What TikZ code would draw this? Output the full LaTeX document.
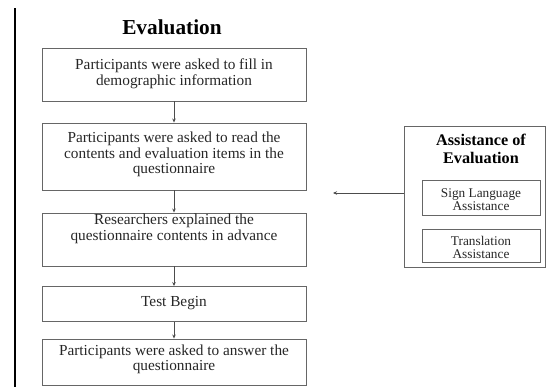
\documentclass[tikz,border=0pt]{standalone}
\usepackage{fontspec}
\setmainfont{Liberation Serif}
\usetikzlibrary{arrows.meta}
\tikzset{
  flowbox/.style={draw=black!60, line width=0.9pt, minimum width=264pt, inner sep=0pt},
  txt/.style={align=center, font=\fontsize{15.3}{15.6}\selectfont, inner sep=0pt, text=black!85},
  smalltxt/.style={align=center, font=\fontsize{13.3}{13.2}\selectfont, inner sep=0pt, text=black!85},
  subbox/.style={draw=black!60, line width=0.9pt, minimum width=118pt, inner sep=0pt},
  flow/.style={draw=black!70, line width=0.7pt, -{Stealth[length=4pt,width=3.5pt]}},
}
\begin{document}
\begin{tikzpicture}[x=1pt,y=-1pt]
\useasboundingbox (0,0) rectangle (547,391);
% left rule
\draw[line width=2pt] (15,8) coordinate (rt) -- (15,387) coordinate (rb);
% title
\node[font=\fontsize{21.3}{23}\selectfont\bfseries, inner sep=0pt] (title) at (172,27) {Evaluation};
% flow boxes
\node[flowbox, minimum height=53pt] (b1) at (174,74.5) {};
\node[txt] (t1) at (174,73.5) {Participants were asked to fill in\\demographic information};
\node[flowbox, minimum height=67pt] (b2) at (174,156.5) {};
\node[txt] (t2) at (174,154.5) {Participants were asked to read the\\contents and evaluation items in the\\questionnaire};
\node[flowbox, minimum height=53pt] (b3) at (174,239.5) {};
\node[txt] (t3) at (174,229) {Researchers explained the\\questionnaire contents in advance};
\node[flowbox, minimum height=35pt] (b4) at (174,304) {};
\node[txt] (t4) at (174,303) {Test Begin};
\node[flowbox, minimum height=46pt] (b5) at (174,362) {};
\node[txt] (t5) at (174,359.5) {Participants were asked to answer the\\questionnaire};
\draw[flow] (b1.south) -- (b2.north);
\draw[flow] (b2.south) -- (b3.north);
\draw[flow] (b3.south) -- (b4.north);
\draw[flow] (b4.south) -- (b5.north);
% assistance box
\node[draw=black!60, line width=0.9pt, minimum width=141pt, minimum height=141pt, inner sep=0pt] (ab) at (474.5,196.5) {};
\node[align=center, font=\fontsize{16.2}{18}\selectfont\bfseries, inner sep=0pt] (at) at (481,149) {Assistance of\\Evaluation};
\node[subbox, minimum height=35pt] (s1) at (481,197.5) {};
\node[smalltxt] (st1) at (481,199.5) {Sign Language\\Assistance};
\node[subbox, minimum height=33pt] (s2) at (481,245.5) {};
\node[smalltxt] (st2) at (481,247.5) {Translation\\Assistance};
\coordinate (tip) at (333,193);
\draw[flow] (ab.west |- tip) -- (tip);
\end{tikzpicture}
\end{document}
